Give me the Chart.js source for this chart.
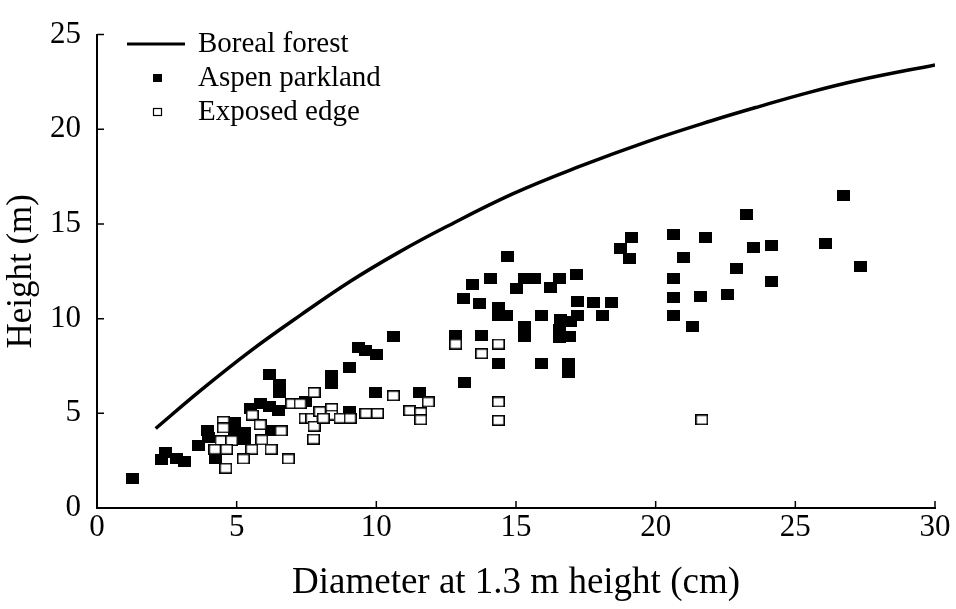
<!DOCTYPE html>
<html lang="en">
<head>
<meta charset="UTF-8">
<title>Height vs diameter</title>
<script src="https://cdn.jsdelivr.net/npm/chart.js"></script>
<style>
  html, body { margin: 0; padding: 0; background: #fff; }
  #wrap { width: 956px; height: 609px; }
</style>
</head>
<body>
<div id="wrap"><canvas id="myChart"></canvas></div>
<script>
// boreal forest curve
const borealX = [2.1, 3.7, 5.5, 7.3, 9.1, 10.8, 12.5, 14.9, 17.3, 19.7, 22.0, 23.7, 25.5, 27.3, 30.0];
const borealY = [4.2, 6.2, 8.3, 10.2, 12.0, 13.5, 14.85, 16.6, 18.05, 19.35, 20.45, 21.2, 21.95, 22.6, 23.4];

// aspen parkland - filled squares
const aspenX = [1.26, 2.45, 2.3, 2.83, 3.15, 3.65, 3.95, 4.0, 4.25, 4.92, 4.92, 5.27, 5.27, 5.5,
  5.84, 6.19, 6.5, 6.19, 6.55, 6.55, 6.23, 7.45, 8.4, 8.4, 9.03, 9.36, 9.6, 10.01, 9.97, 11.56,
  9.03, 10.6, 12.82, 13.77, 14.37, 13.15, 14.69, 13.45, 14.07, 13.11, 13.68, 15.0, 15.32, 15.68,
  16.22, 16.55, 17.17, 14.37, 14.67, 14.37, 15.92, 16.58, 16.94, 17.2, 17.19, 17.79, 18.43, 18.1,
  15.32, 15.32, 16.55, 16.55, 16.91, 15.92, 16.87, 16.87, 19.14, 18.75, 19.08,
  20.63, 21.77, 23.26, 26.72, 23.52, 24.15, 26.09, 20.99, 22.88, 20.63, 24.15, 27.35, 20.63,
  21.61, 22.57, 20.63, 21.31];
const aspenY = [1.55, 2.95, 2.57, 2.6, 2.45, 3.3, 4.1, 3.7, 2.6, 4.5, 4.0, 4.0, 3.64, 5.26,
  5.51, 5.34, 5.17, 7.07, 6.5, 6.1, 4.07, 5.6, 7.0, 6.55, 7.41, 8.49, 8.32, 8.1, 6.1, 6.1,
  5.09, 9.08, 9.1, 9.1, 7.64, 6.62, 13.3, 11.8, 12.11, 11.04, 10.82, 11.6, 12.11, 12.11,
  11.63, 12.11, 12.31, 10.61, 10.14, 10.14, 10.14, 9.93, 9.85, 10.14, 10.92, 10.87, 10.87, 10.14,
  9.59, 9.08, 9.42, 9.0, 9.08, 7.64, 7.64, 7.13, 14.27, 13.72, 13.16,
  14.44, 14.27, 15.49, 16.48, 13.76, 13.84, 13.96, 13.25, 12.65, 12.14, 11.94, 12.74, 11.12,
  11.16, 11.26, 10.15, 9.56];

// exposed edge - open squares
const edgeX = [4.52, 4.52, 5.56, 5.84, 6.59, 4.44, 4.82, 5.9, 4.22, 4.64, 5.54, 6.23, 5.24, 6.85,
  4.61, 6.97, 7.27, 7.45, 7.69, 7.75, 7.77, 7.77, 7.98, 8.4, 8.4, 8.1, 8.7, 9.06, 9.63, 10.04,
  10.61, 11.2, 11.59, 11.59, 11.86, 12.84, 13.77, 14.37, 14.37, 14.37, 21.65];
const edgeY = [4.58, 4.23, 4.91, 4.4, 4.07, 3.56, 3.56, 3.6, 3.1, 3.1, 3.1, 3.1, 2.59, 2.59,
  2.1, 5.51, 5.51, 4.74, 4.74, 3.64, 6.1, 4.32, 5.09, 5.26, 4.91, 4.74, 4.74, 4.74, 5.0, 5.0,
  5.93, 5.14, 5.04, 4.66, 5.6, 8.66, 8.15, 8.66, 5.6, 4.63, 4.66];

const xTicks = [0, 5, 10, 15, 20, 25, 30];
const yTicks = [0, 5, 10, 15, 20, 25];
const seriesNames = ['Boreal forest', 'Aspen parkland', 'Exposed edge'];

const serif = "'Liberation Serif', 'Times New Roman', serif";

// square markers, a little wider than tall like the scan
function makeSquare(w, h, filled) {
  const c = document.createElement('canvas');
  c.width = w; c.height = h;
  const g = c.getContext('2d');
  if (filled) {
    g.fillStyle = '#000';
    g.fillRect(0, 0, w, h);
  } else {
    g.fillStyle = '#fff';
    g.fillRect(0, 0, w, h);
    g.strokeStyle = '#000';
    g.lineWidth = 1.6;
    g.strokeRect(0.8, 0.8, w - 1.6, h - 1.6);
  }
  return c;
}
const filledSq = makeSquare(13, 11, true);
const openSq = makeSquare(13, 11, false);

function pts(xs, ys) {
  return xs.map((v, i) => ({x: v, y: ys[i]}));
}

// ticks pointing inwards
const inwardTicks = {
  id: 'inwardTicks',
  afterDraw(chart) {
    const {ctx, chartArea: a, scales: {x, y}} = chart;
    ctx.save();
    ctx.strokeStyle = '#000';
    ctx.lineWidth = 1.5;
    ctx.beginPath();
    xTicks.forEach(v => {
      const px = x.getPixelForValue(v);
      ctx.moveTo(px, a.bottom);
      ctx.lineTo(px, a.bottom - 7);
    });
    yTicks.forEach(v => {
      const py = y.getPixelForValue(v);
      ctx.moveTo(a.left, py);
      ctx.lineTo(a.left + 7, py);
    });
    ctx.stroke();
    ctx.restore();
  }
};

// legend in the upper left corner
const cornerLegend = {
  id: 'cornerLegend',
  afterDraw(chart) {
    const ctx = chart.ctx;
    ctx.save();
    ctx.strokeStyle = '#000';
    ctx.lineWidth = 3;
    ctx.beginPath();
    ctx.moveTo(127, 44);
    ctx.lineTo(185, 44);
    ctx.stroke();
    ctx.fillStyle = '#000';
    ctx.fillRect(153, 74, 9, 8);
    ctx.lineWidth = 1.2;
    ctx.strokeRect(153.5, 108.5, 8, 7);
    ctx.font = '29px ' + serif;
    ctx.textBaseline = 'middle';
    ctx.textAlign = 'left';
    ctx.fillText(seriesNames[0], 198, 44);
    ctx.fillText(seriesNames[1], 198, 78);
    ctx.fillText(seriesNames[2], 198, 112);
    ctx.restore();
  }
};

new Chart(document.getElementById('myChart'), {
  type: 'scatter',
  data: {
    datasets: [
      {
        label: seriesNames[0],
        data: pts(borealX, borealY),
        showLine: true,
        borderColor: '#000',
        borderWidth: 3.5,
        pointRadius: 0,
        tension: 0.4,
        order: 2
      },
      {
        label: seriesNames[1],
        data: pts(aspenX, aspenY),
        pointStyle: filledSq,
        order: 1
      },
      {
        label: seriesNames[2],
        data: pts(edgeX, edgeY),
        pointStyle: openSq,
        order: 0
      }
    ]
  },
  options: {
    responsive: true,
    maintainAspectRatio: false,
    animation: false,
    layout: { padding: { top: 18, right: 21, left: 0, bottom: 0 } },
    plugins: {
      legend: { display: false },
      tooltip: { enabled: false }
    },
    scales: {
      x: {
        type: 'linear',
        min: 0, max: 30,
        afterFit(s) { s.height = 101; },
        grid: { drawOnChartArea: false, drawTicks: false },
        border: { color: '#000', width: 2 },
        ticks: { stepSize: 5, color: '#000', padding: 1, font: { family: serif, size: 31 } },
        title: {
          display: true,
          text: 'Diameter at 1.3 m height (cm)',
          color: '#000',
          font: { family: serif, size: 37 },
          padding: { bottom: 4 }
        }
      },
      y: {
        min: 0, max: 25,
        afterFit(s) { s.width = 97; },
        grid: { drawOnChartArea: false, drawTicks: false },
        border: { color: '#000', width: 2 },
        ticks: { stepSize: 5, color: '#000', padding: 16, font: { family: serif, size: 31 } },
        title: {
          display: true,
          text: 'Height (m)',
          color: '#000',
          font: { family: serif, size: 35 },
          padding: { top: 1 }
        }
      }
    }
  },
  plugins: [inwardTicks, cornerLegend]
});
</script>
</body>
</html>
